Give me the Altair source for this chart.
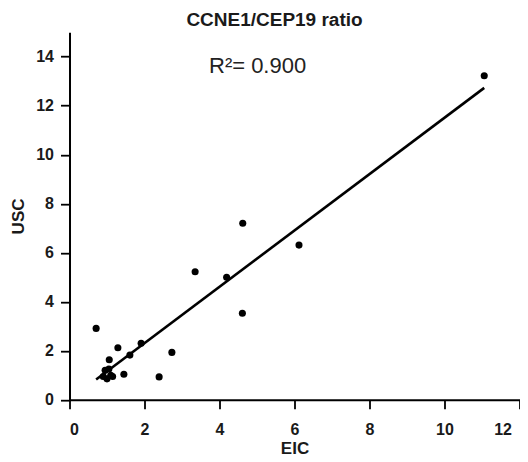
import altair as alt
import pandas as pd

eic = [0.71, 1.29, 1.91, 1.61, 2.73, 1.06, 2.39, 1.45, 4.61, 4.62, 6.12, 3.35, 4.19, 11.06,
       0.95, 1.05, 0.90, 1.10, 1.00, 1.15]
usc = [2.91, 2.12, 2.30, 1.82, 1.93, 1.63, 0.93, 1.04, 3.53, 7.20, 6.31, 5.22, 5.00, 13.22,
       1.20, 1.25, 0.95, 1.00, 0.85, 0.95]

df = pd.DataFrame({"EIC": eic, "USC": usc})

x_ticks = [0, 2, 4, 6, 8, 10, 12]
y_ticks = [0, 2, 4, 6, 8, 10, 12, 14]

font = "Liberation Sans"
ink = "#1a1a1a"

xenc = alt.X("EIC:Q", scale=alt.Scale(domain=[0, 12], nice=False, zero=True),
             axis=alt.Axis(values=x_ticks, title="EIC", grid=False, domainColor="black",
                           domainWidth=2, tickColor="black", tickWidth=1.8, tickSize=9,
                           labelFont=font, labelFontSize=16, labelFontWeight="bold",
                           labelColor=ink, titleFont=font, titleFontSize=17,
                           titleFontWeight="bold", titleColor=ink, labelPadding=13,
                           labelOffset={"expr": "datum.value == 12 ? -8 : 0"},
                           titlePadding=3))
yenc = alt.Y("USC:Q", scale=alt.Scale(domain=[0, 15], nice=False),
             axis=alt.Axis(values=y_ticks, title="USC", grid=False, domainColor="black",
                           domainWidth=2, tickColor="black", tickWidth=1.8, tickSize=9,
                           labelFont=font, labelFontSize=16, labelFontWeight="bold",
                           labelColor=ink, titleFont=font, titleFontSize=17,
                           titleFontWeight="bold", titleColor=ink, labelPadding=7,
                           titlePadding=8))

points = alt.Chart(df).mark_circle(size=50, color="black", opacity=1).encode(x=xenc, y=yenc)

line = alt.Chart(df).transform_regression("EIC", "USC").mark_line(
    color="black", strokeWidth=2.6).encode(x="EIC:Q", y="USC:Q")

ann = alt.Chart(pd.DataFrame({"x": [3.72], "y": [13.32], "t": ["R\u00b2= 0.900"]})).mark_text(
    align="left", baseline="alphabetic", font=font, fontSize=22, color="#222").encode(
    x="x:Q", y="y:Q", text="t:N")

chart = alt.layer(line, points, ann).properties(
    width=450, height=367.5,
    title=alt.TitleParams("CCNE1/CEP19 ratio", font=font, fontSize=19, fontWeight="bold",
                          color=ink, anchor="middle", offset=2, dx=-20),
    autosize=alt.AutoSizeParams(type="none"),
    padding={"left": 61.5, "top": 24.2, "right": 0.5, "bottom": 62},
).configure_view(stroke=None)

chart.save("out.html", embed_options={"renderer": "svg", "actions": False})
